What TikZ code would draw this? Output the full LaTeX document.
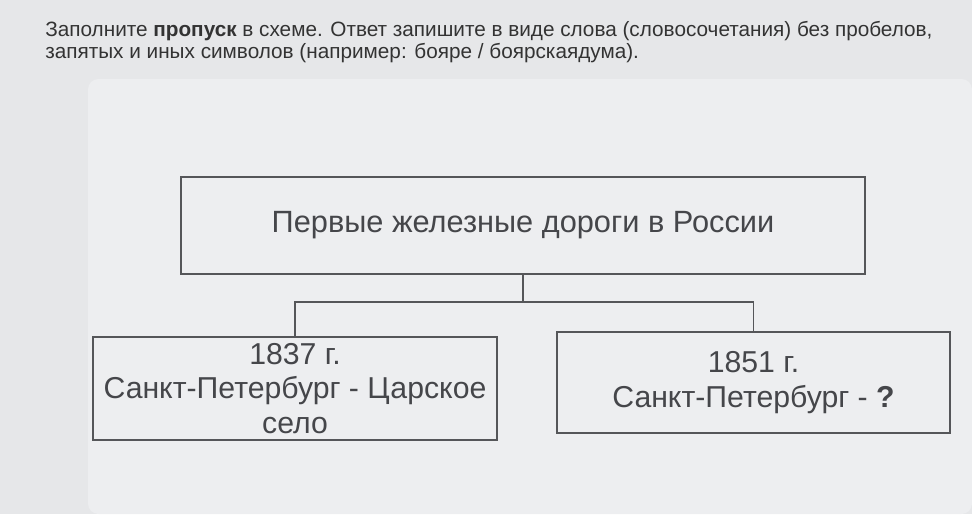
\documentclass[tikz,border=0pt]{standalone}
\usepackage{fontspec}
\setmainfont{Liberation Sans}
\newfontfamily\headfont{Liberation Sans}
\usetikzlibrary{positioning}
\definecolor{bgcol}{HTML}{E6E7E9}
\definecolor{panelcol}{HTML}{EDEEF0}
\definecolor{linecol}{HTML}{555659}
\definecolor{txtcol}{HTML}{45464A}
\tikzset{box/.style={draw=linecol,line width=1.1pt,align=center,inner sep=0pt,text=txtcol,font=\fontsize{17.2}{19.5}\selectfont},
         headline/.style={anchor=west,inner sep=0pt,text=black!80,font=\headfont\fontsize{11.8}{14}\selectfont},
         link/.style={draw=linecol,line width=1.1pt},
        }

\begin{document}
\begin{tikzpicture}[x=0.02cm,y=-0.02cm]
        \fill[bgcol](0,0)rectangle(972,514);
        \fill[panelcol,rounded corners=6pt](88,79)rectangle(972,514);
        \useasboundingbox(0,0)rectangle(972,514);

        \node[headline](q1)at(45,31){Заполните \textbf{пропуск} в схеме. Ответ запишите в виде слова (словосочетания) без пробелов,};
        \node[headline](q2)at(45,53){запятых и иных символов (например: бояре / боярскаядума).};

        \node[box,minimum width=13.68cm,minimum height=1.94cm,font=\fontsize{17.5}{20}\selectfont](title)at(523,225.5){Первые железные дороги в России};
        \node[box,minimum width=8.08cm,minimum height=2.06cm](left)at(295,388.5){1837 г.\\Санкт-Петербург - Царское\\село};
        \node[box,minimum width=7.86cm,minimum height=2.02cm](right)at(753.5,382.5){1851 г.\\Санкт-Петербург - \textbf{?}};

        \coordinate(fork)at(523,302);
        \draw[link](title.south)--(fork);
        \draw[link](left.north)|-(fork)-|(right.north);
    \end{tikzpicture}
\end{document}
